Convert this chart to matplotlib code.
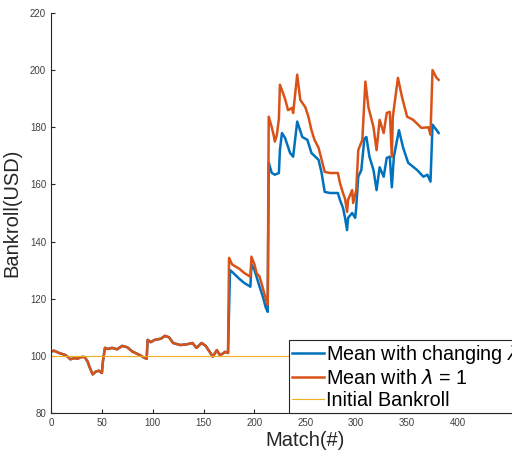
import matplotlib
matplotlib.use("Agg")
import matplotlib.pyplot as plt
import numpy as np

plt.rcParams['font.family'] = ['Liberation Sans', 'DejaVu Sans']
plt.rcParams['mathtext.fontset'] = 'dejavusans'

# Shared part (both strategies identical before match 175)
common_x = [0, 3, 8, 14, 17, 19, 23, 26, 30, 33, 36, 38, 41, 44, 47, 50, 51, 53, 56, 60,
            65, 70, 75, 80, 86, 92, 94, 95, 98, 102, 108, 112, 116, 120, 127, 133, 139,
            143, 148, 152, 156, 159, 163, 166, 169, 171, 174]
common_y = [101.5, 101.8, 101.0, 100.3, 99.5, 98.8, 99.2, 99.0, 99.6, 99.6, 98.0, 96.0,
            93.5, 94.5, 94.8, 94.0, 98.0, 102.8, 102.4, 102.8, 102.3, 103.5, 103.0, 101.5,
            100.5, 99.3, 99.0, 105.6, 104.8, 105.6, 106.0, 107.0, 106.5, 104.5, 103.8,
            104.0, 104.5, 102.8, 104.5, 103.5, 101.4, 99.7, 102.0, 100.3, 100.8, 101.4, 101.0]

# Mean with lambda = 1 (after match 174)
orange_x = [175, 178, 185, 190, 196, 197, 200, 202, 205, 208, 211, 213, 214, 217, 219,
            220, 222, 224, 225, 228, 230, 233, 237, 238, 242, 245, 250, 253, 256, 259,
            263, 266, 269, 274, 282, 284, 287, 289, 291, 292, 296, 297, 300, 302, 306,
            309, 312, 317, 320, 323, 327, 330, 333, 335, 336, 341, 345, 350, 356, 364,
            371, 373, 375, 379, 381]
orange_y = [134.3, 132.0, 130.5, 129.0, 127.7, 134.7, 132.0, 129.0, 127.7, 124.0, 120.0,
            117.9, 183.7, 180.0, 177.0, 175.0, 177.4, 183.0, 194.9, 192.0, 190.0, 186.0,
            186.8, 185.0, 198.4, 189.6, 187.0, 183.7, 179.0, 175.6, 172.8, 168.6, 164.4,
            164.0, 164.0, 160.5, 157.0, 155.0, 150.4, 154.6, 158.0, 153.5, 158.0, 172.0,
            175.6, 196.0, 187.0, 180.0, 172.0, 182.6, 178.0, 185.0, 185.4, 169.7, 183.7,
            197.3, 190.6, 183.7, 182.6, 179.8, 180.0, 177.4, 200.0, 197.3, 196.6]

# Mean with changing lambda (after match 174)
blue_x = [175, 176, 178, 185, 190, 196, 197, 200, 202, 205, 208, 211, 213, 214, 217,
          220, 224, 225, 227, 230, 235, 238, 242, 247, 252, 256, 263, 266, 269, 274,
          282, 284, 287, 289, 291, 292, 296, 299, 300, 302, 305, 308, 310, 313, 317,
          320, 323, 327, 330, 333, 335, 337, 342, 346, 351, 360, 366, 370, 373, 375,
          379, 381]
blue_y = [116.0, 130.0, 129.4, 127.0, 125.5, 124.2, 132.0, 130.0, 127.7, 124.2, 121.0,
          117.0, 115.4, 167.6, 164.0, 163.4, 164.0, 172.0, 178.0, 176.3, 171.0, 169.7,
          182.0, 176.6, 175.6, 171.0, 168.6, 164.0, 157.4, 157.0, 157.0, 154.6, 151.8,
          148.3, 144.0, 148.3, 150.0, 148.3, 152.0, 162.7, 165.0, 176.0, 176.6, 169.7,
          165.0, 158.0, 166.0, 162.7, 169.3, 169.7, 159.0, 169.7, 179.0, 173.0, 167.6,
          165.0, 162.7, 163.4, 161.0, 180.9, 179.0, 178.0]

initial_bankroll = 100
n_matches = 381

labels = ['Mean with changing $\\lambda$', 'Mean with $\\lambda$ = 1', 'Initial Bankroll']
x_ticks = [0, 50, 100, 150, 200, 250, 300, 350, 400]
y_ticks = [80, 100, 120, 140, 160, 180, 200, 220]

c_blue = '#0072BD'
c_orange = '#D95319'
c_yellow = '#EDB120'

W, H = 512, 453
fig = plt.figure(figsize=(W / 100, H / 100), dpi=100)
ax = fig.add_axes([51 / W, 40 / H, 508.7 / W, 400 / H])

bx = common_x + blue_x
by = common_y + blue_y
ox = common_x + orange_x
oy = common_y + orange_y

ax.plot(bx, by, color=c_blue, lw=1.8, label=labels[0])
ax.plot(ox, oy, color=c_orange, lw=1.8, label=labels[1])
ax.plot([0, n_matches], [initial_bankroll, initial_bankroll], color=c_yellow, lw=0.8,
        label=labels[2])

ax.set_xlim(0, 500)
ax.set_ylim(80, 220)
ax.set_xticks(x_ticks)
ax.set_yticks(y_ticks)
ax.tick_params(direction='in', length=3, width=0.8, labelsize=7, colors='#262626',
               labelcolor='#404040')
ax.spines['top'].set_visible(False)
ax.spines['right'].set_visible(False)
for s in ('left', 'bottom'):
    ax.spines[s].set_color('#262626')
    ax.spines[s].set_linewidth(0.8)

ax.set_xlabel('Match(#)', fontsize=14.5, color='#262626', labelpad=2)
ax.set_ylabel('Bankroll(USD)', fontsize=14.5, color='#262626', labelpad=6)

leg = fig.legend(loc='lower left', bbox_to_anchor=(289 / W, 40 / H),
                 bbox_transform=fig.transFigure, fontsize=14.2, frameon=True,
                 fancybox=False, framealpha=1, edgecolor='#262626',
                 borderaxespad=0, borderpad=0.15, labelspacing=0.15,
                 handlelength=1.6, handletextpad=0.15)
leg.get_frame().set_linewidth(0.8)

fig.savefig('out.png', dpi=100)
